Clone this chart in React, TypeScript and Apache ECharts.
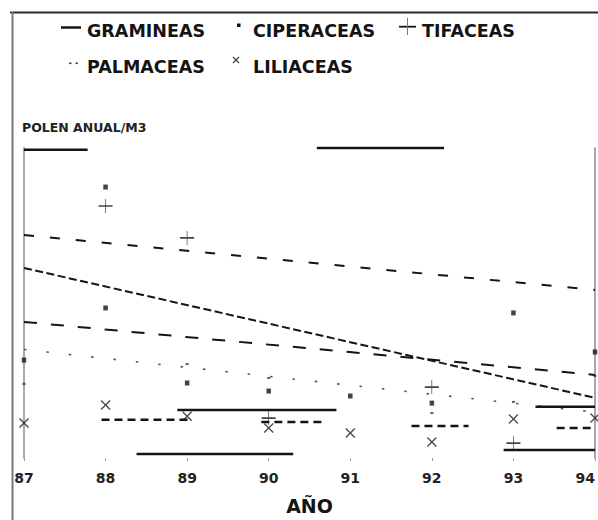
import React, { useEffect, useRef } from "react";
import * as echarts from "echarts";

// ---- data (y unit = arbitrary pollen scale 0..100) ----
const years = [87, 88, 89, 90, 91, 92, 93, 94];
const tickLabels = ["87", "88", "89", "90", "91", "92", "93", "94"];

const ciperaceasYears = [87, 88, 88, 89, 90, 91, 92, 93, 94];
const ciperaceasValues = [31.6, 87.4, 48.4, 24.2, 21.6, 20.0, 17.7, 46.8, 34.2];

const palmaceasYears = [87, 89, 90, 92, 93, 94];
const palmaceasValues = [23.9, 30.3, 25.8, 14.5, 18.1, 26.5];

const tifaceasYears = [88, 89, 90, 92, 93];
const tifaceasValues = [81.3, 71.0, 12.9, 22.9, 4.8];

const liliaceasValues = [11.3, 17.1, 13.5, 9.7, 8.1, 5.2, 12.6, 12.9];

// regression lines: value at 87 and at 94
const trendGramineas = [61.3, 19.4];
const trendCiperaceas = [71.9, 54.2];
const trendTifaceas = [43.9, 26.8];
const trendPalmaceas = [35.0, 14.8];

// level segments: start year, end year, value
const gramineasSegStart = [87, 90.59, 88.88, 88.38, 93.27, 92.88];
const gramineasSegEnd = [87.78, 92.15, 90.83, 90.3, 94, 94];
const gramineasSegValue = [99.4, 100, 15.5, 1.3, 16.5, 2.6];

const liliaceasSegStart = [87.95, 89.91, 91.75, 93.53];
const liliaceasSegEnd = [89.06, 90.68, 92.45, 94];
const liliaceasSegValue = [12.3, 11.6, 10.3, 9.7];

const FONT = '"DejaVu Sans", "Liberation Sans", sans-serif';
const INK = "#141414";

const PLUS = "path://M0,6.2H14V7.9H0Z M6.6,0H7.3V14H6.6Z";
const CROSS =
  "path://M1,0L5,4L9,0L10,1L6,5L10,9L9,10L5,6L1,10L0,9L4,5L0,1Z";

export default function App() {
  const ref = useRef<HTMLDivElement>(null);

  useEffect(() => {
    if (!ref.current) return;
    const chart = echarts.init(ref.current, undefined, { renderer: "svg" });

    const segSeries = (
      name: string,
      starts: number[],
      ends: number[],
      vals: number[],
      lineStyle: any
    ) =>
      starts.map((s, i) => ({
        name,
        type: "line",
        symbol: "none",
        clip: false,
        silent: true,
        lineStyle,
        data: [
          [s, vals[i]],
          [ends[i], vals[i]],
        ],
      }));

    const trend = (name: string, v: number[], lineStyle: any) => ({
      name,
      type: "line",
      symbol: "none",
      silent: true,
      lineStyle,
      data: [
        [years[0], v[0]],
        [years[years.length - 1], v[1]],
      ],
    });

    const legendText = (text: string, x: number, y: number) => ({
      type: "text",
      x,
      y,
      style: {
        text,
        fill: INK,
        font: `bold 17.5px ${FONT}`,
        textVerticalAlign: "middle",
        verticalAlign: "middle",
      },
    });

    const option: any = {
      animation: false,
      backgroundColor: "#ffffff",
      grid: {
        left: 24,
        right: 3,
        top: 148,
        bottom: 62,
        containLabel: false,
        outerBoundsMode: "none",
      },
      xAxis: {
        type: "value",
        min: 87,
        max: 94,
        interval: 1,
        axisLine: { show: false },
        axisTick: { show: true, length: 3, lineStyle: { color: "#9a9a9a" } },
        splitLine: { show: false },
        axisLabel: {
          margin: 13,
          fontFamily: FONT,
          fontWeight: "bold",
          fontSize: 14,
          color: "#222",
          showMinLabel: true,
          showMaxLabel: true,
          alignMaxLabel: "right",
          formatter: (v: number) => {
            const i = years.indexOf(Math.round(v));
            return i >= 0 ? tickLabels[i] : "";
          },
        },
        name: "AÑO",
        nameLocation: "middle",
        nameGap: 38,
        nameTextStyle: {
          fontFamily: FONT,
          fontWeight: "bold",
          fontSize: 19,
          color: INK,
        },
      },
      yAxis: [
        {
          type: "value",
          min: 0,
          max: 100,
          position: "left",
          axisLine: { show: true, lineStyle: { color: "#a8a8a8", width: 2 } },
          axisTick: { show: false },
          axisLabel: { show: false },
          splitLine: { show: false },
          name: "POLEN ANUAL/M3",
          nameLocation: "end",
          nameGap: 21,
          nameTextStyle: {
            align: "left",
            verticalAlign: "middle",
            fontFamily: FONT,
            fontWeight: "bold",
            fontSize: 12.5,
            color: "#222",
            padding: [0, 0, 0, -2],
          },
        },
        {
          type: "value",
          min: 0,
          max: 100,
          position: "right",
          axisLine: { show: true, lineStyle: { color: "#8a8a8a", width: 1.5 } },
          axisTick: { show: false },
          axisLabel: { show: false },
          splitLine: { show: false },
        },
      ],
      graphic: [
        // scanned page frame
        {
          type: "line",
          shape: { x1: 10, y1: 12.5, x2: 598, y2: 12.5 },
          style: { stroke: "#2a2a2a", lineWidth: 2 },
        },
        {
          type: "line",
          shape: { x1: 12.5, y1: 12, x2: 12.5, y2: 520 },
          style: { stroke: "#777", lineWidth: 2 },
        },
        // legend row 1
        {
          type: "line",
          shape: { x1: 61, y1: 27.5, x2: 81, y2: 27.5 },
          style: { stroke: INK, lineWidth: 2.5 },
        },
        legendText("GRAMINEAS", 87, 31),
        {
          type: "rect",
          shape: { x: 237, y: 23.5, width: 3.5, height: 3.5 },
          style: { fill: INK },
        },
        legendText("CIPERACEAS", 253, 31),
        {
          type: "line",
          shape: { x1: 399, y1: 26.7, x2: 416, y2: 26.7 },
          style: { stroke: INK, lineWidth: 1.8 },
        },
        {
          type: "line",
          shape: { x1: 407.5, y1: 18, x2: 407.5, y2: 35 },
          style: { stroke: "#777", lineWidth: 1 },
        },
        legendText("TIFACEAS", 422, 31),
        // legend row 2
        {
          type: "rect",
          shape: { x: 69, y: 62.5, width: 2.5, height: 1.6 },
          style: { fill: "#444" },
        },
        {
          type: "rect",
          shape: { x: 75.5, y: 62.5, width: 2.5, height: 1.6 },
          style: { fill: "#444" },
        },
        legendText("PALMACEAS", 87, 67),
        {
          type: "line",
          shape: { x1: 233, y1: 57, x2: 239, y2: 63 },
          style: { stroke: "#444", lineWidth: 1.2 },
        },
        {
          type: "line",
          shape: { x1: 233, y1: 63, x2: 239, y2: 57 },
          style: { stroke: "#444", lineWidth: 1.2 },
        },
        legendText("LILIACEAS", 253, 67),
      ],
      series: [
        trend("CIPERACEAS", trendCiperaceas, {
          color: INK,
          width: 2,
          type: [10, 16],
        }),
        trend("TIFACEAS", trendTifaceas, {
          color: INK,
          width: 2,
          type: [13, 14],
        }),
        trend("GRAMINEAS", trendGramineas, {
          color: INK,
          width: 2,
          type: [8, 3.5],
        }),
        trend("PALMACEAS", trendPalmaceas, {
          color: "#555",
          width: 1.6,
          type: [2.5, 20],
        }),
        ...segSeries(
          "GRAMINEAS",
          gramineasSegStart,
          gramineasSegEnd,
          gramineasSegValue,
          { color: INK, width: 2.5, type: "solid" }
        ),
        ...segSeries(
          "LILIACEAS",
          liliaceasSegStart,
          liliaceasSegEnd,
          liliaceasSegValue,
          { color: INK, width: 2.5, type: [8, 5] }
        ),
        {
          name: "CIPERACEAS",
          type: "scatter",
          symbol: "rect",
          symbolSize: [4.5, 5],
          itemStyle: { color: INK },
          data: ciperaceasYears.map((y, i) => [y, ciperaceasValues[i]]),
        },
        {
          name: "PALMACEAS",
          type: "scatter",
          symbol: "rect",
          symbolSize: [3, 2],
          itemStyle: { color: "#333" },
          data: palmaceasYears.map((y, i) => [y, palmaceasValues[i]]),
        },
        {
          name: "TIFACEAS",
          type: "scatter",
          symbol: PLUS,
          symbolSize: 14,
          itemStyle: { color: INK },
          data: tifaceasYears.map((y, i) => [y, tifaceasValues[i]]),
        },
        {
          name: "LILIACEAS",
          type: "scatter",
          symbol: CROSS,
          symbolSize: 10,
          itemStyle: { color: "#222" },
          data: years.map((y, i) => [y, liliaceasValues[i]]),
        },
      ],
    };

    chart.setOption(option);
    return () => chart.dispose();
  }, []);

  return (
    <div
      ref={ref}
      style={{
        position: "absolute",
        left: 0,
        top: 0,
        width: 598,
        height: 520,
        background: "#fff",
      }}
    />
  );
}
